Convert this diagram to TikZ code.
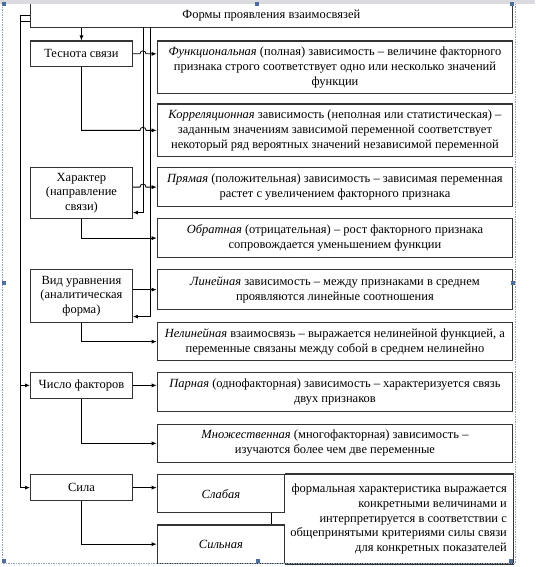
\documentclass[tikz,border=0pt]{standalone}
\usepackage{fontspec}
\setmainfont{Liberation Serif}
\usetikzlibrary{arrows.meta,calc}
\definecolor{boxc}{HTML}{333333}
\definecolor{barc}{HTML}{D9DBDE}
\definecolor{framec}{HTML}{8FA2BC}
\definecolor{handc}{HTML}{4E6E9E}
\begin{document}
\begin{tikzpicture}[x=1pt,y=-1pt,
  bx/.style={draw=boxc,line width=1.2pt,inner sep=0pt,anchor=north west,align=center,font=\fontsize{12.5}{14.8}\selectfont},
  lb/.style={bx,minimum width=101.7pt},
  rb/.style={bx,minimum width=355.3pt},
  arr/.style={line width=0.8pt,-{Latex[length=5pt,width=4pt]}},
  ln/.style={line width=0.8pt},
  hnd/.style={fill=handc}]
\useasboundingbox (0,0) rectangle (535,567);
% nodes
\node[bx,minimum width=482.5pt,minimum height=24pt] (top) at (29.5,3) {Формы проявления взаимосвязей};
\node[lb,minimum height=25.5pt] (tes) at (30,40.5) {Теснота связи};
\node[lb,minimum height=51pt] (har) at (30,167) {Характер\\(направление\\связи)};
\node[lb,minimum height=53pt] (vid) at (30,269) {Вид уравнения\\(аналитическая\\форма)};
\node[lb,minimum height=25.5pt] (chi) at (30,372) {Число факторов};
\node[lb,minimum height=26pt] (sil) at (30,474) {Сила};

\node[rb,minimum height=52.5pt] (f1) at (156.7,40.5) {\textit{Функциональная} (полная) зависимость – величине факторного\\признака строго соответствует одно или несколько значений\\функции};
\node[rb,minimum height=52.5pt] (f2) at (156.7,103.5) {\textit{Корреляционная} зависимость (неполная или статистическая) –\\заданным значениям зависимой переменной соответствует\\некоторый ряд вероятных значений независимой переменной};
\node[rb,minimum height=39pt] (f3) at (156.7,167) {\textit{Прямая} (положительная) зависимость – зависимая переменная\\растет с увеличением факторного признака};
\node[rb,minimum height=39pt] (f4) at (156.7,218) {\textit{Обратная} (отрицательная) – рост факторного признака\\сопровождается уменьшением функции};
\node[rb,minimum height=40pt] (f5) at (156.7,269) {\textit{Линейная} зависимость – между признаками в среднем\\проявляются линейные соотношения};
\node[rb,minimum height=38pt] (f6) at (156.7,322) {\textit{Нелинейная} взаимосвязь – выражается нелинейной функцией, а\\переменные связаны между собой в среднем нелинейно};
\node[rb,minimum height=39pt] (f7) at (156.7,372) {\textit{Парная} (однофакторная) зависимость – характеризуется связь\\двух признаков};
\node[rb,minimum height=38.5pt] (f8) at (156.7,423.5) {\textit{Множественная} (многофакторная) зависимость –\\изучаются более чем две переменные};
\node[bx,minimum width=127.3pt,minimum height=38pt] (slab) at (156.7,474) {\textit{Слабая}};
\node[bx,minimum width=127.3pt,minimum height=38.5pt] (siln) at (156.7,524.3) {\textit{Сильная}};
\node[bx,draw=none,minimum width=226pt,minimum height=89pt,align=right] (desc) at (285,474) {формальная характеристика выражается\\конкретными величинами и\\интерпретируется в соответствии с\\общепринятыми критериями силы связи\\для конкретных показателей};
\draw[boxc,line width=1.2pt] (slab.north east) -| (f8.south east |- siln.south) -- (siln.south east);

% coordinates
\coordinate (bA) at (143,27);
\coordinate (bB) at (150,27);
\coordinate (lx) at (20,0);

% buses
\draw[arr] (bA) |- ($(har.east)+(0,19.5)$);
\draw[arr] (bB) |- ($(vid.east)+(0,20.5)$);
\draw[arr] (top.west) -| (lx |- chi.west) -- (chi.west);
\draw[arr] ($(top.west)+(0,5.7)$) -| (lx |- sil.west) -- (sil.west);
\draw[arr] (top.south -| tes.north) -- (tes.north);

% connectors with hops
\draw[arr] (tes.east) -- ($(tes.east -| bA)+(-3,0)$) .. controls +(0,-4) and +(0,-4) .. +(6,0) -- (tes.east -| f1.west);
\draw[arr] (tes.south) |- ($(f2.west -| bA)+(-3,0)$) .. controls +(0,-4) and +(0,-4) .. +(6,0) -- (f2.west);
\draw[arr] (har.east |- f3.west) -- ($(f3.west -| bA)+(-3,0)$) .. controls +(0,-4) and +(0,-4) .. +(6,0) -- (f3.west);
\draw[arr] (har.south) |- (f4.west);
\draw[arr] (vid.east |- f5.west) -- (f5.west);
\draw[arr] (vid.south) |- (f6.west);
\draw[arr] (chi.east) -- (chi.east -| f7.west);
\draw[arr] (chi.south) |- (f8.west);
\draw[arr] (sil.east) -- (sil.east -| slab.west);
\draw[arr] (sil.south) |- (siln.west);
\draw[ln] ($(slab.south west)+(115,0)$) -- ($(siln.north west)+(115,0)$);

% Word selection UI
\fill[barc] (0,0) rectangle (535,4.3);
\draw[framec,line width=0.6pt,dash pattern=on 1.5pt off 1pt] (2.5,4.3) -- (2.5,563.5) -- (515,563.5) -- (515,4.3);
\fill[hnd] (1.5,2.3) rectangle (5.5,6.3);
\fill[hnd] (255,2.3) rectangle (259,6.3);
\fill[hnd] (510,2.3) rectangle (514,6.3);
\fill[hnd] (1.5,281) rectangle (5.5,285);
\fill[hnd] (510.5,281) rectangle (514.5,285);
\fill[hnd] (2,559) rectangle (6,563);
\fill[hnd] (256,559) rectangle (260,563);
\fill[hnd] (509,559) rectangle (513,563);
\end{tikzpicture}
\end{document}
